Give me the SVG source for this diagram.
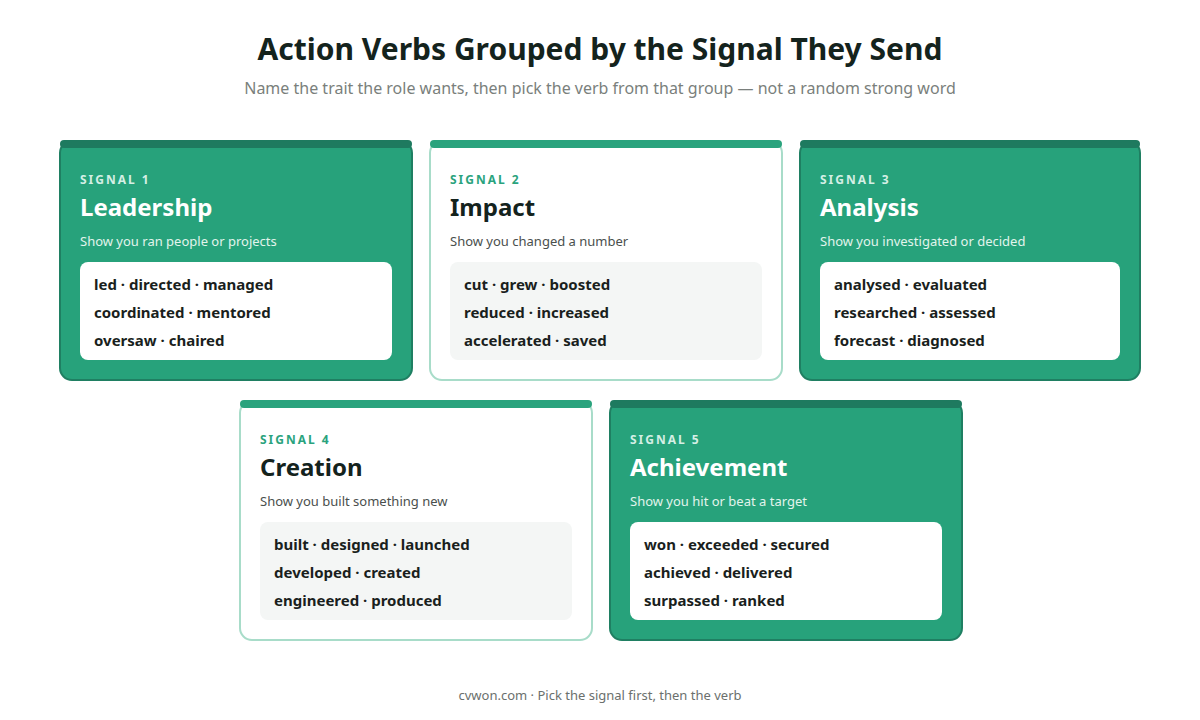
<svg xmlns="http://www.w3.org/2000/svg" width="1200" height="720" viewBox="0 0 1200 720">
<style>
text{font-family:"Noto Sans","DejaVu Sans",sans-serif}
.card-g{fill:#27a27b;stroke:#1f7f62;stroke-width:2}
.card-w{fill:#fff;stroke:#a8dcc9;stroke-width:2}
.bar-g{fill:#1e7a5f}
.bar-w{fill:#2aa37d}
.lab{font-size:12px;font-weight:700;letter-spacing:2px}
.ttl{font-size:24px;font-weight:700}
.sub{font-size:13px}
.inner-g{fill:#fff}
.inner-w{fill:#f4f6f5}
.verb{font-size:15px;font-weight:700;fill:#1a1f1d}
</style>
<rect width="1200" height="720" fill="#fff"/>
<text x="600" y="60" text-anchor="middle" font-size="30" font-weight="700" fill="#14231d">Action Verbs Grouped by the Signal They Send</text>
<text x="600" y="94" text-anchor="middle" font-size="16" fill="#7a7f7c">Name the trait the role wants, then pick the verb from that group — not a random strong word</text>

<g id="signal1">
<rect class="card-g" x="60" y="141" width="352" height="239" rx="12"/>
<rect class="bar-g" x="60" y="140" width="352" height="8" rx="4"/>
<text class="lab" x="80" y="184" fill="#d5efe5">SIGNAL 1</text>
<text class="ttl" x="80" y="216" fill="#fff">Leadership</text>
<text class="sub" x="80" y="246" fill="#e2f4ec">Show you ran people or projects</text>
<rect class="inner-g" x="80" y="262" width="312" height="98" rx="8"/>
<text class="verb" x="94" y="290">led · directed · managed</text>
<text class="verb" x="94" y="318">coordinated · mentored</text>
<text class="verb" x="94" y="346">oversaw · chaired</text>
</g>

<g id="signal2">
<rect class="card-w" x="430" y="141" width="352" height="239" rx="12"/>
<rect class="bar-w" x="430" y="140" width="352" height="8" rx="4"/>
<text class="lab" x="450" y="184" fill="#2aa37d">SIGNAL 2</text>
<text class="ttl" x="450" y="216" fill="#14231d">Impact</text>
<text class="sub" x="450" y="246" fill="#4a4f4d">Show you changed a number</text>
<rect class="inner-w" x="450" y="262" width="312" height="98" rx="8"/>
<text class="verb" x="464" y="290">cut · grew · boosted</text>
<text class="verb" x="464" y="318">reduced · increased</text>
<text class="verb" x="464" y="346">accelerated · saved</text>
</g>

<g id="signal3">
<rect class="card-g" x="800" y="141" width="340" height="239" rx="12"/>
<rect class="bar-g" x="800" y="140" width="340" height="8" rx="4"/>
<text class="lab" x="820" y="184" fill="#d5efe5">SIGNAL 3</text>
<text class="ttl" x="820" y="216" fill="#fff">Analysis</text>
<text class="sub" x="820" y="246" fill="#e2f4ec">Show you investigated or decided</text>
<rect class="inner-g" x="820" y="262" width="300" height="98" rx="8"/>
<text class="verb" x="834" y="290">analysed · evaluated</text>
<text class="verb" x="834" y="318">researched · assessed</text>
<text class="verb" x="834" y="346">forecast · diagnosed</text>
</g>

<g id="signal4">
<rect class="card-w" x="240" y="401" width="352" height="239" rx="12"/>
<rect class="bar-w" x="240" y="400" width="352" height="8" rx="4"/>
<text class="lab" x="260" y="444" fill="#2aa37d">SIGNAL 4</text>
<text class="ttl" x="260" y="476" fill="#14231d">Creation</text>
<text class="sub" x="260" y="506" fill="#4a4f4d">Show you built something new</text>
<rect class="inner-w" x="260" y="522" width="312" height="98" rx="8"/>
<text class="verb" x="274" y="550">built · designed · launched</text>
<text class="verb" x="274" y="578">developed · created</text>
<text class="verb" x="274" y="606">engineered · produced</text>
</g>

<g id="signal5">
<rect class="card-g" x="610" y="401" width="352" height="239" rx="12"/>
<rect class="bar-g" x="610" y="400" width="352" height="8" rx="4"/>
<text class="lab" x="630" y="444" fill="#d5efe5">SIGNAL 5</text>
<text class="ttl" x="630" y="476" fill="#fff">Achievement</text>
<text class="sub" x="630" y="506" fill="#e2f4ec">Show you hit or beat a target</text>
<rect class="inner-g" x="630" y="522" width="312" height="98" rx="8"/>
<text class="verb" x="644" y="550">won · exceeded · secured</text>
<text class="verb" x="644" y="578">achieved · delivered</text>
<text class="verb" x="644" y="606">surpassed · ranked</text>
</g>

<g id="connectors"/>
<text x="600" y="700" text-anchor="middle" font-size="13" fill="#6b706d">cvwon.com · Pick the signal first, then the verb</text>
</svg>
